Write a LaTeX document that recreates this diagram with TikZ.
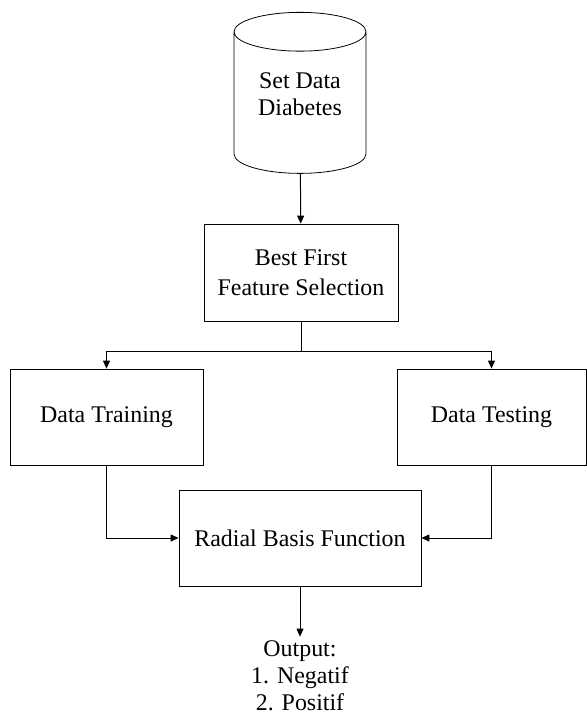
\documentclass[tikz,border=0pt]{standalone}
\usepackage{fontspec}
\setmainfont{Liberation Serif}
\usetikzlibrary{arrows.meta,positioning,calc,shapes.geometric}

\tikzset{
  box/.style={shape=rectangle,draw,align=center},
  link/.style={arrows=-{Triangle[length=4bp,width=3.5bp]},line width=0.5pt}
}

\begin{document}
\begin{tikzpicture}[x=0.5bp,y=-0.5bp,font=\fontsize{12}{13.5}\selectfont]
\useasboundingbox (0,0) rectangle (587,722);

\node[shape=cylinder,shape border rotate=90,aspect=0.4,draw,minimum width=66bp,minimum height=80.5bp] (DB) at (300,107) {\raisebox{5bp}[\height][\depth]{\begin{tabular}{@{}c@{}}Set Data\\Diabetes\end{tabular}}};
\node[box,minimum width=97bp,minimum height=48.5bp] (BF) at (301,272.5) {Best First\\[1.5bp]Feature Selection};
\node[box,minimum width=96.5bp,minimum height=48bp] (TR) at (106.5,417) {Data Training};
\node[box,minimum width=94.5bp,minimum height=48bp] (TE) at (491.5,417) {Data Testing};
\node[box,minimum width=121bp,minimum height=48bp] (RBF) at (300,538) {Radial Basis Function};
\node[align=center,inner sep=2pt] (OUT) at (300,676) {Output:\\1. Negatif\\2. Positif};
\coordinate (S) at (301,351);

\draw[link] (DB) -- (BF);
\draw[link] (BF.south) -- (S) -| (TR.north);
\draw[link] (S) -| (TE.north);
\draw[link] (TR) |- (RBF);
\draw[link] (TE) |- (RBF);
\draw[link] (RBF) -- (OUT);
\end{tikzpicture}
\end{document}
